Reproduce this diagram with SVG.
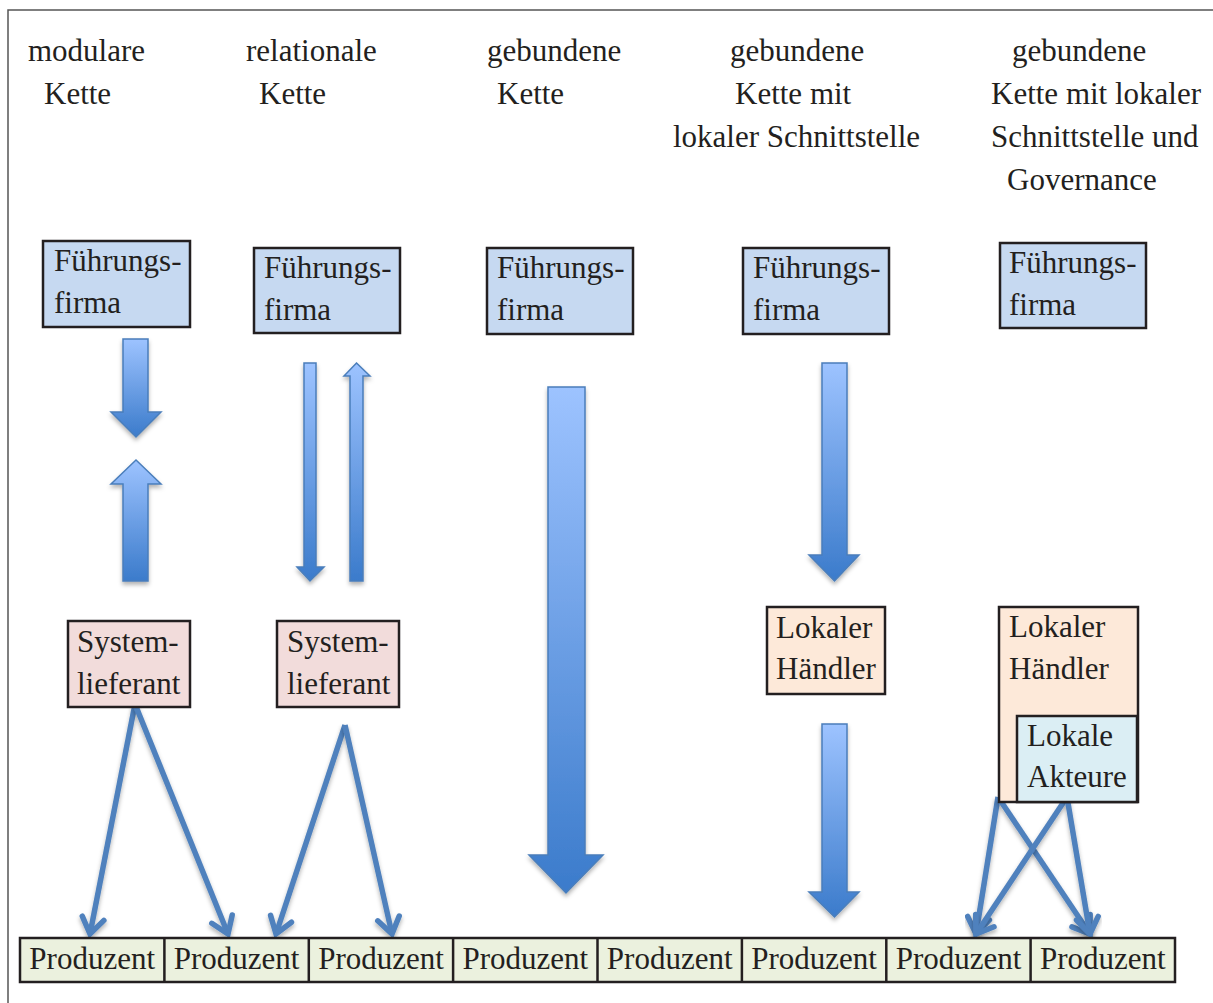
<svg xmlns="http://www.w3.org/2000/svg" width="1213" height="1003" viewBox="0 0 1213 1003">
<style>
text{font-family:"Liberation Serif","Times New Roman",serif;font-size:31px;fill:#231f20}
.box{stroke:#231f20;stroke-width:2.5}
.ff{fill:#c6d9f1}.sl{fill:#f2dcdb}.lh{fill:#fde9d9}.la{fill:#dbeef4}.pr{fill:#ebf1de}
.blk{fill:url(#g);stroke:#4a7ebb;stroke-width:1.5;filter:url(#sh)}
.ln{fill:none;stroke:#4f81bd;stroke-width:5.5;filter:url(#sh);marker-end:url(#ch)}
.c{text-anchor:middle}
</style>
<defs>
<linearGradient id="g" x1="0" y1="0" x2="0" y2="1">
<stop offset="0" stop-color="#9dc3ff"/>
<stop offset="1" stop-color="#3b7bcb"/>
</linearGradient>
<filter id="sh" x="-50%" y="-20%" width="200%" height="140%">
<feDropShadow dx="0" dy="3" stdDeviation="2" flood-color="#000" flood-opacity="0.3"/>
</filter>
<marker id="ch" markerUnits="userSpaceOnUse" viewBox="-22 -16 27 32" refX="0" refY="0" markerWidth="27" markerHeight="32" orient="auto">
<path d="M-16,-11 L0,0 L-16,11" fill="none" stroke="#4f81bd" stroke-width="5.5" stroke-linecap="round" stroke-linejoin="miter"/>
</marker>
<marker id="ch2" markerUnits="userSpaceOnUse" viewBox="-20 -15 25 30" refX="0" refY="0" markerWidth="25" markerHeight="30" orient="auto">
<path d="M-12,-9 L0,0 L-12,9" fill="none" stroke="#4f81bd" stroke-width="4" stroke-linecap="round"/>
</marker>
</defs>
<rect width="1213" height="1003" fill="#fff"/>
<path d="M8,1003 V10 H1213" fill="none" stroke="#555" stroke-width="1.5"/>

<g id="headers">
<text x="28" y="61">modulare</text>
<text x="44" y="104">Kette</text>
<text x="246" y="61">relationale</text>
<text x="259" y="104">Kette</text>
<text x="487" y="61">gebundene</text>
<text x="497" y="104">Kette</text>
<text x="730" y="61">gebundene</text>
<text x="735" y="104">Kette mit</text>
<text x="673" y="147">lokaler Schnittstelle</text>
<text x="1012" y="61">gebundene</text>
<text x="991" y="104">Kette mit lokaler</text>
<text x="991" y="147">Schnittstelle und</text>
<text x="1007" y="190">Governance</text>
</g>

<g id="connectors">
<path class="blk" d="M123,339 H148 V412 H161 L136,437 L111,412 H123 Z"/>
<path class="blk" d="M136,460 L161,484 H148 V581 H123 V484 H111 Z"/>
<path class="blk" d="M304,363 H316 V567 H324 L310,581 L297,567 H304 Z"/>
<path class="blk" d="M356.5,363 L370,376 H363 V581 H350 V376 H344 Z"/>
<path class="blk" d="M548,387 H585 V855 H603 L566,893 L529,855 H548 Z"/>
<path class="blk" d="M822,363 H847 V555 H859 L834.5,581 L809,555 H822 Z"/>
<path class="blk" d="M822,724 H847 V892 H859 L834.5,917 L809,892 H822 Z"/>
<line x1="1067" y1="340" x2="1067" y2="576" stroke="#4f81bd" stroke-width="4" fill="none" filter="url(#sh)" marker-end="url(#ch2)"/>
<line class="ln" x1="135" y1="704" x2="90" y2="934"/>
<line class="ln" x1="135" y1="704" x2="228" y2="934"/>
<line class="ln" x1="345" y1="725" x2="276" y2="934"/>
<line class="ln" x1="345" y1="725" x2="392" y2="934"/>
<line class="ln" x1="998" y1="797" x2="976" y2="934"/>
<line class="ln" x1="998" y1="797" x2="1090" y2="934"/>
<line class="ln" x1="1067" y1="797" x2="976" y2="934"/>
<line class="ln" x1="1067" y1="797" x2="1090" y2="934"/>
</g>

<g id="ff1"><rect class="box ff" x="43" y="241" width="147" height="86"/><text x="54" y="271">Führungs-</text><text x="54" y="313">firma</text></g>
<g id="ff2"><rect class="box ff" x="254" y="248" width="146" height="85"/><text x="264" y="278">Führungs-</text><text x="264" y="320">firma</text></g>
<g id="ff3"><rect class="box ff" x="487" y="248" width="146" height="86"/><text x="497" y="278">Führungs-</text><text x="497" y="320">firma</text></g>
<g id="ff4"><rect class="box ff" x="743" y="248" width="146" height="86"/><text x="753" y="278">Führungs-</text><text x="753" y="320">firma</text></g>
<g id="ff5"><rect class="box ff" x="1000" y="243" width="146" height="85"/><text x="1009" y="273">Führungs-</text><text x="1009" y="315">firma</text></g>

<g id="sl1"><rect class="box sl" x="68" y="621" width="122" height="86"/><text x="77" y="652">System-</text><text x="77" y="694">lieferant</text></g>
<g id="sl2"><rect class="box sl" x="277" y="621" width="122" height="86"/><text x="287" y="652">System-</text><text x="287" y="694">lieferant</text></g>

<g id="lh1"><rect class="box lh" x="767" y="607" width="118" height="87"/><text x="776" y="638">Lokaler</text><text x="776" y="679">Händler</text></g>
<g id="lh2"><rect class="box lh" x="999" y="607" width="139" height="195"/><text x="1009" y="637">Lokaler</text><text x="1009" y="679">Händler</text></g>
<g id="la"><rect class="box la" x="1017" y="716" width="120" height="86"/><text x="1027" y="746">Lokale</text><text x="1027" y="787">Akteure</text></g>

<g id="producers">
<rect class="box pr" x="20" y="938" width="1155" height="44"/>
<path d="M164.4,938 V982 M308.8,938 V982 M453.1,938 V982 M597.5,938 V982 M741.9,938 V982 M886.3,938 V982 M1030.6,938 V982" stroke="#231f20" stroke-width="2.5"/>
<text class="c" x="92.2" y="969">Produzent</text>
<text class="c" x="236.6" y="969">Produzent</text>
<text class="c" x="381" y="969">Produzent</text>
<text class="c" x="525.3" y="969">Produzent</text>
<text class="c" x="669.7" y="969">Produzent</text>
<text class="c" x="814.1" y="969">Produzent</text>
<text class="c" x="958.5" y="969">Produzent</text>
<text class="c" x="1102.8" y="969">Produzent</text>
</g>
</svg>
